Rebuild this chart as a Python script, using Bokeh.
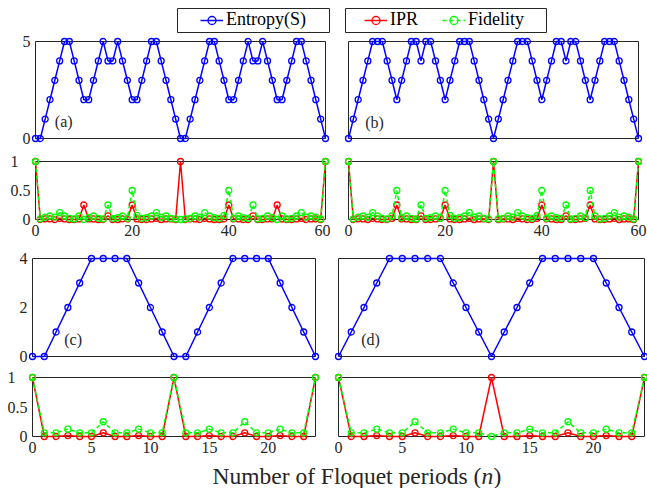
from bokeh.plotting import figure
from bokeh.layouts import column, row
from bokeh.models import BoxAnnotation, Label, Legend, LegendItem, FixedTicker, Range1d
from bokeh.embed import file_html
from bokeh.resources import INLINE

# ---------------- data ----------------
n60 = list(range(61))
n24 = list(range(25))

entropy_a = [0, 0, 1, 2, 3, 4, 5, 5, 4, 3, 2, 2, 3, 4, 5, 4, 4, 5, 4, 3, 2, 2, 3, 4, 5, 5, 4, 3, 2, 1, 0,
             0, 1, 2, 3, 4, 5, 5, 4, 3, 2, 2, 3, 4, 5, 4, 4, 5, 4, 3, 2, 2, 3, 4, 5, 5, 4, 3, 2, 1, 0]
entropy_b = [0, 1, 2, 3, 4, 5, 5, 5, 4, 3, 2, 3, 4, 5, 5, 4, 5, 5, 4, 3, 2, 3, 4, 5, 5, 5, 4, 3, 2, 1, 0,
             1, 2, 3, 4, 5, 5, 5, 4, 3, 2, 3, 4, 5, 5, 4, 5, 5, 4, 3, 2, 3, 4, 5, 5, 5, 4, 3, 2, 1, 0]
ipr_a = [1, 0, 0.01, 0.01, 0, 0.02, 0.01, 0, 0, 0.01, 0.25, 0.01, 0.01, 0, 0, 0.0625, 0, 0, 0.01, 0.01,
         0.25, 0.01, 0, 0, 0.01, 0.02, 0, 0.01, 0.01, 0, 1,
         0, 0.01, 0.01, 0, 0.02, 0.01, 0, 0, 0.01, 0.25, 0.01, 0.01, 0, 0, 0.0625, 0, 0, 0.01, 0.01,
         0.25, 0.01, 0, 0, 0.01, 0.02, 0, 0.01, 0.01, 0, 1]
fid_a = [1, 0.01, 0.04, 0.06, 0.04, 0.12, 0.06, 0.02, 0.01, 0.06, 0.0, 0.03, 0.06, 0.02, 0.01, 0.25,
         0.02, 0.03, 0.06, 0.02, 0.5, 0.07, 0.02, 0.03, 0.06, 0.12, 0.04, 0.06, 0.02, 0.01, 0.0,
         0.01, 0.02, 0.06, 0.04, 0.12, 0.06, 0.03, 0.02, 0.07, 0.5, 0.02, 0.06, 0.03, 0.02, 0.25,
         0.01, 0.02, 0.06, 0.03, 0.0, 0.06, 0.01, 0.02, 0.06, 0.12, 0.04, 0.06, 0.04, 0.01, 1]
ipr_b = [1, 0, 0.01, 0.01, 0, 0.02, 0.01, 0, 0, 0.02, 0.25, 0.01, 0.01, 0, 0, 0.0625, 0, 0, 0.01, 0.02,
         0.25, 0.01, 0, 0, 0.01, 0.02, 0, 0.01, 0.01, 0, 1,
         0, 0.01, 0.01, 0, 0.02, 0.01, 0, 0, 0.02, 0.25, 0.01, 0.01, 0, 0, 0.0625, 0, 0, 0.01, 0.02,
         0.25, 0.01, 0, 0, 0.01, 0.02, 0, 0.01, 0.01, 0, 1]
fid_b = [1, 0.01, 0.04, 0.06, 0.04, 0.12, 0.06, 0.02, 0.01, 0.06, 0.5, 0.03, 0.06, 0.02, 0.01, 0.25,
         0.02, 0.03, 0.06, 0.02, 0.5, 0.07, 0.02, 0.03, 0.06, 0.12, 0.04, 0.06, 0.02, 0.01, 1,
         0.01, 0.02, 0.06, 0.04, 0.12, 0.06, 0.03, 0.02, 0.07, 0.5, 0.02, 0.06, 0.03, 0.02, 0.25,
         0.01, 0.02, 0.06, 0.03, 0.5, 0.06, 0.01, 0.02, 0.06, 0.12, 0.04, 0.06, 0.04, 0.01, 1]

entropy_c = [0, 0, 1, 2, 3, 4, 4, 4, 4, 3, 2, 1, 0, 0, 1, 2, 3, 4, 4, 4, 4, 3, 2, 1, 0]
entropy_d = [0, 1, 2, 3, 4, 4, 4, 4, 4, 3, 2, 1, 0, 1, 2, 3, 4, 4, 4, 4, 4, 3, 2, 1, 0]
ipr_c = [1, 0, 0, 0.015, 0, 0, 0.0625, 0, 0, 0.015, 0, 0, 1, 0, 0, 0.015, 0, 0, 0.0625, 0, 0, 0.015, 0, 0, 1]
fid_c = [1, 0.0625, 0.0625, 0.125, 0.0625, 0.0625, 0.25, 0.0625, 0.0625, 0.125, 0.0625, 0.0625, 1,
         0.0625, 0.0625, 0.125, 0.0625, 0.0625, 0.25, 0.0625, 0.0625, 0.125, 0.0625, 0.0625, 1]
ipr_d = [1, 0, 0, 0.015, 0, 0, 0.0625, 0, 0, 0.015, 0, 0, 1, 0, 0, 0.015, 0, 0, 0.0625, 0, 0, 0.015, 0, 0, 1]
fid_d = [1, 0.0625, 0.0625, 0.125, 0.0625, 0.0625, 0.25, 0.0625, 0.0625, 0.125, 0.0625, 0.0625, 0,
         0.0625, 0.0625, 0.125, 0.0625, 0.0625, 0.25, 0.0625, 0.0625, 0.125, 0.0625, 0.0625, 1]

yticks_s60 = [0, 5]
yticks_s24 = [0, 2, 4]
yticks_overlap = [0, 0.5, 1]
ylabels_overlap = ["0", "0.5", "1\u00a0\u00a0\u00a0"]
xticks_60 = [0, 20, 40, 60]
xticks_24 = [0, 5, 10, 15, 20]
panel_tags = ["(a)", "(b)", "(c)", "(d)"]
legend_labels = ["Entropy(S)", "IPR", "Fidelity"]

# ---------------- style ----------------
FONT = "Liberation Serif"
TXT = "#262626"
BLUE, RED, GREEN = "#0000FF", "#FF0000", "#00FF00"
MS = 6
LW = 1.5
MLW = 1.3
TICK_FS = "16px"
NAN = float("nan")


def frame_box(**kw):
    return BoxAnnotation(fill_alpha=0, line_color=TXT, line_alpha=1, line_dash="solid",
                         line_width=1, level="underlay", **kw)


def panel(fig_x, fig_y, box, pads, xlim, ylim):
    bx0, bx1, by0, by1 = box
    pl, pr, pt, pb = pads
    fx0, fx1, fy0, fy1 = bx0 - pl, bx1 + pr, by0 - pt, by1 + pb
    ux = (xlim[1] - xlim[0]) / (bx1 - bx0)
    uy = (ylim[1] - ylim[0]) / (by1 - by0)
    p = figure(frame_width=fx1 - fx0, frame_height=fy1 - fy0,
               x_range=Range1d(xlim[0] - pl * ux, xlim[1] + pr * ux),
               y_range=Range1d(ylim[0] - pb * uy, ylim[1] + pt * uy),
               min_border_left=fx0 - fig_x[0], min_border_right=fig_x[1] - fx1,
               min_border_top=fy0 - fig_y[0], min_border_bottom=fig_y[1] - fy1,
               output_backend="svg", toolbar_location=None, title=None, tools="")
    p.xgrid.visible = False
    p.ygrid.visible = False
    p.outline_line_color = None
    p.background_fill_color = "white"
    p.border_fill_color = "white"
    for ax in (p.xaxis[0], p.yaxis[0]):
        ax.axis_line_color = None
        ax.major_tick_line_color = None
        ax.minor_tick_line_color = None
        ax.major_tick_out = 0
        ax.major_tick_in = 0
        ax.minor_tick_out = 0
        ax.minor_tick_in = 0
        ax.major_label_standoff = 0
        ax.major_label_text_font = FONT
        ax.major_label_text_font_size = TICK_FS
        ax.major_label_text_color = TXT
    p.add_layout(frame_box(left=xlim[0], right=xlim[1], bottom=ylim[0], top=ylim[1]))
    return p


def draw_entropy(p, x, y):
    p.line(x, y, line_color=BLUE, line_width=LW)
    p.scatter(x, y, marker="circle", size=MS, fill_color=None, line_color=BLUE, line_width=MLW)


def draw_overlap(p, x, ipr, fid):
    p.line(x, ipr, line_color=RED, line_width=LW)
    p.scatter(x, ipr, marker="circle", size=MS, fill_color=None, line_color=RED, line_width=MLW)
    p.line(x, fid, line_color=GREEN, line_width=LW, line_dash="4 3")
    p.scatter(x, fid, marker="circle", size=MS, fill_color=None, line_color=GREEN, line_width=MLW)


def tag(p, x, y, text):
    p.add_layout(Label(x=x, y=y, text=text, text_font=FONT, text_font_size="16px",
                       text_color=TXT, text_baseline="middle"))


PAD = 5
LEFT = (0, 330)
RIGHT = (330, 647)

# ---- row 1: (a) (b) entropy ----
a_top = panel(LEFT, (34, 146), (35, 325, 41, 138), (PAD, PAD, PAD, PAD), (0, 60), (0, 5))
b_top = panel(RIGHT, (34, 146), (348, 638, 41, 138), (PAD, PAD, PAD, PAD), (0, 60), (0, 5))
draw_entropy(a_top, n60, entropy_a)
draw_entropy(b_top, n60, entropy_b)
for p in (a_top, b_top):
    p.xaxis.visible = False
a_top.yaxis.ticker = FixedTicker(ticks=yticks_s60)
b_top.yaxis.visible = False
tag(a_top, 4.0, 0.86, panel_tags[0])
tag(b_top, 3.45, 0.81, panel_tags[1])

# ---- row 2: (a) (b) IPR / fidelity ----
a_bot = panel(LEFT, (146, 250), (35, 325, 161, 219), (PAD, PAD, PAD, PAD), (0, 60), (0, 1))
b_bot = panel(RIGHT, (146, 250), (348, 638, 161, 219), (PAD, PAD, PAD, PAD), (0, 60), (0, 1))
draw_overlap(a_bot, n60, ipr_a, fid_a)
draw_overlap(b_bot, n60, ipr_b, fid_b)
for p in (a_bot, b_bot):
    p.xaxis.ticker = FixedTicker(ticks=xticks_60)
a_bot.yaxis.ticker = FixedTicker(ticks=yticks_overlap)
a_bot.yaxis.major_label_overrides = dict(zip(yticks_overlap, ylabels_overlap))
b_bot.yaxis.visible = False

# ---- row 3: (c) (d) entropy ----
c_top = panel(LEFT, (250, 366), (32, 315, 258, 356), (PAD, PAD, PAD, PAD), (0, 24), (0, 4))
d_top = panel(RIGHT, (250, 366), (338, 644, 258, 356), (PAD, 3, PAD, PAD), (0, 24), (0, 4))
draw_entropy(c_top, n24, entropy_c)
draw_entropy(d_top, n24, entropy_d)
for p in (c_top, d_top):
    p.xaxis.visible = False
c_top.yaxis.ticker = FixedTicker(ticks=yticks_s24)
d_top.yaxis.visible = False
tag(c_top, 2.69, 0.71, panel_tags[2])
tag(d_top, 1.78, 0.71, panel_tags[3])

# ---- row 4: (c) (d) IPR / fidelity ----
c_bot = panel(LEFT, (366, 462), (32, 315, 377, 436), (PAD, PAD, PAD, PAD), (0, 24), (0, 1))
d_bot = panel(RIGHT, (366, 462), (338, 644, 377, 436), (PAD, 3, PAD, PAD), (0, 24), (0, 1))
draw_overlap(c_bot, n24, ipr_c, fid_c)
draw_overlap(d_bot, n24, ipr_d, fid_d)
for p in (c_bot, d_bot):
    p.xaxis.ticker = FixedTicker(ticks=xticks_24)
c_bot.yaxis.ticker = FixedTicker(ticks=yticks_overlap)
c_bot.yaxis.major_label_overrides = dict(zip(yticks_overlap, ylabels_overlap))
d_bot.yaxis.visible = False

# ---- legend strip ----
leg = figure(frame_width=647, frame_height=34, min_border=0, x_range=Range1d(0, 647), y_range=Range1d(0, 34),
             x_axis_type=None, y_axis_type=None, output_backend="svg", toolbar_location=None,
             title=None, tools="")
leg.xgrid.visible = False
leg.ygrid.visible = False
leg.outline_line_color = None
rl_e = leg.line(x=[NAN], y=[NAN], line_color=BLUE, line_width=LW)
rs_e = leg.scatter(x=[NAN], y=[NAN], marker="circle", size=MS, fill_color=None, line_color=BLUE, line_width=MLW)
rl_i = leg.line(x=[NAN], y=[NAN], line_color=RED, line_width=LW)
rs_i = leg.scatter(x=[NAN], y=[NAN], marker="circle", size=MS, fill_color=None, line_color=RED, line_width=MLW)
rl_f = leg.line(x=[NAN], y=[NAN], line_color=GREEN, line_width=LW, line_dash="4 3")
rs_f = leg.scatter(x=[NAN], y=[NAN], marker="circle", size=MS, fill_color=None, line_color=GREEN, line_width=MLW)

leg_style = dict(orientation="horizontal", padding=0, margin=0, border_line_color=None,
                 background_fill_alpha=0, glyph_width=23, glyph_height=20, label_height=20,
                 label_standoff=3, label_text_font=FONT, label_text_font_size="18px",
                 label_text_color="black", spacing=24)
leg1 = Legend(items=[LegendItem(label=legend_labels[0], renderers=[rl_e, rs_e])], location=(200, 4), **leg_style)
leg2 = Legend(items=[LegendItem(label=legend_labels[1], renderers=[rl_i, rs_i]),
                     LegendItem(label=legend_labels[2], renderers=[rl_f, rs_f])], location=(364, 4), **leg_style)
leg.add_layout(leg1)
leg.add_layout(leg2)
leg.add_layout(frame_box(left=177, right=329, bottom=2, top=26))
leg.add_layout(frame_box(left=345, right=546, bottom=2, top=26))

# ---- x label strip ----
xl = figure(frame_width=647, frame_height=26, min_border=0, x_range=Range1d(0, 647), y_range=Range1d(0, 26),
            x_axis_type=None, y_axis_type=None, output_backend="svg", toolbar_location=None,
            title=None, tools="")
xl.xgrid.visible = False
xl.ygrid.visible = False
xl.outline_line_color = None
XFS = "23.5px"
XL_Y = 13
xl.add_layout(Label(x=212, y=XL_Y, x_units="screen", y_units="screen", text="Number of Floquet periods (",
                    text_font=FONT, text_font_size=XFS, text_color=TXT, text_baseline="alphabetic"))
xl.add_layout(Label(x=481, y=XL_Y, x_units="screen", y_units="screen", text="n",
                    text_font=FONT, text_font_size=XFS, text_font_style="italic", text_color=TXT,
                    text_baseline="alphabetic"))
xl.add_layout(Label(x=493, y=XL_Y, x_units="screen", y_units="screen", text=")",
                    text_font=FONT, text_font_size=XFS, text_color=TXT, text_baseline="alphabetic"))

layout = column(leg, row(a_top, b_top), row(a_bot, b_bot), row(c_top, d_top), row(c_bot, d_bot), xl)

open("out.html", "w").write(file_html(layout, INLINE))
